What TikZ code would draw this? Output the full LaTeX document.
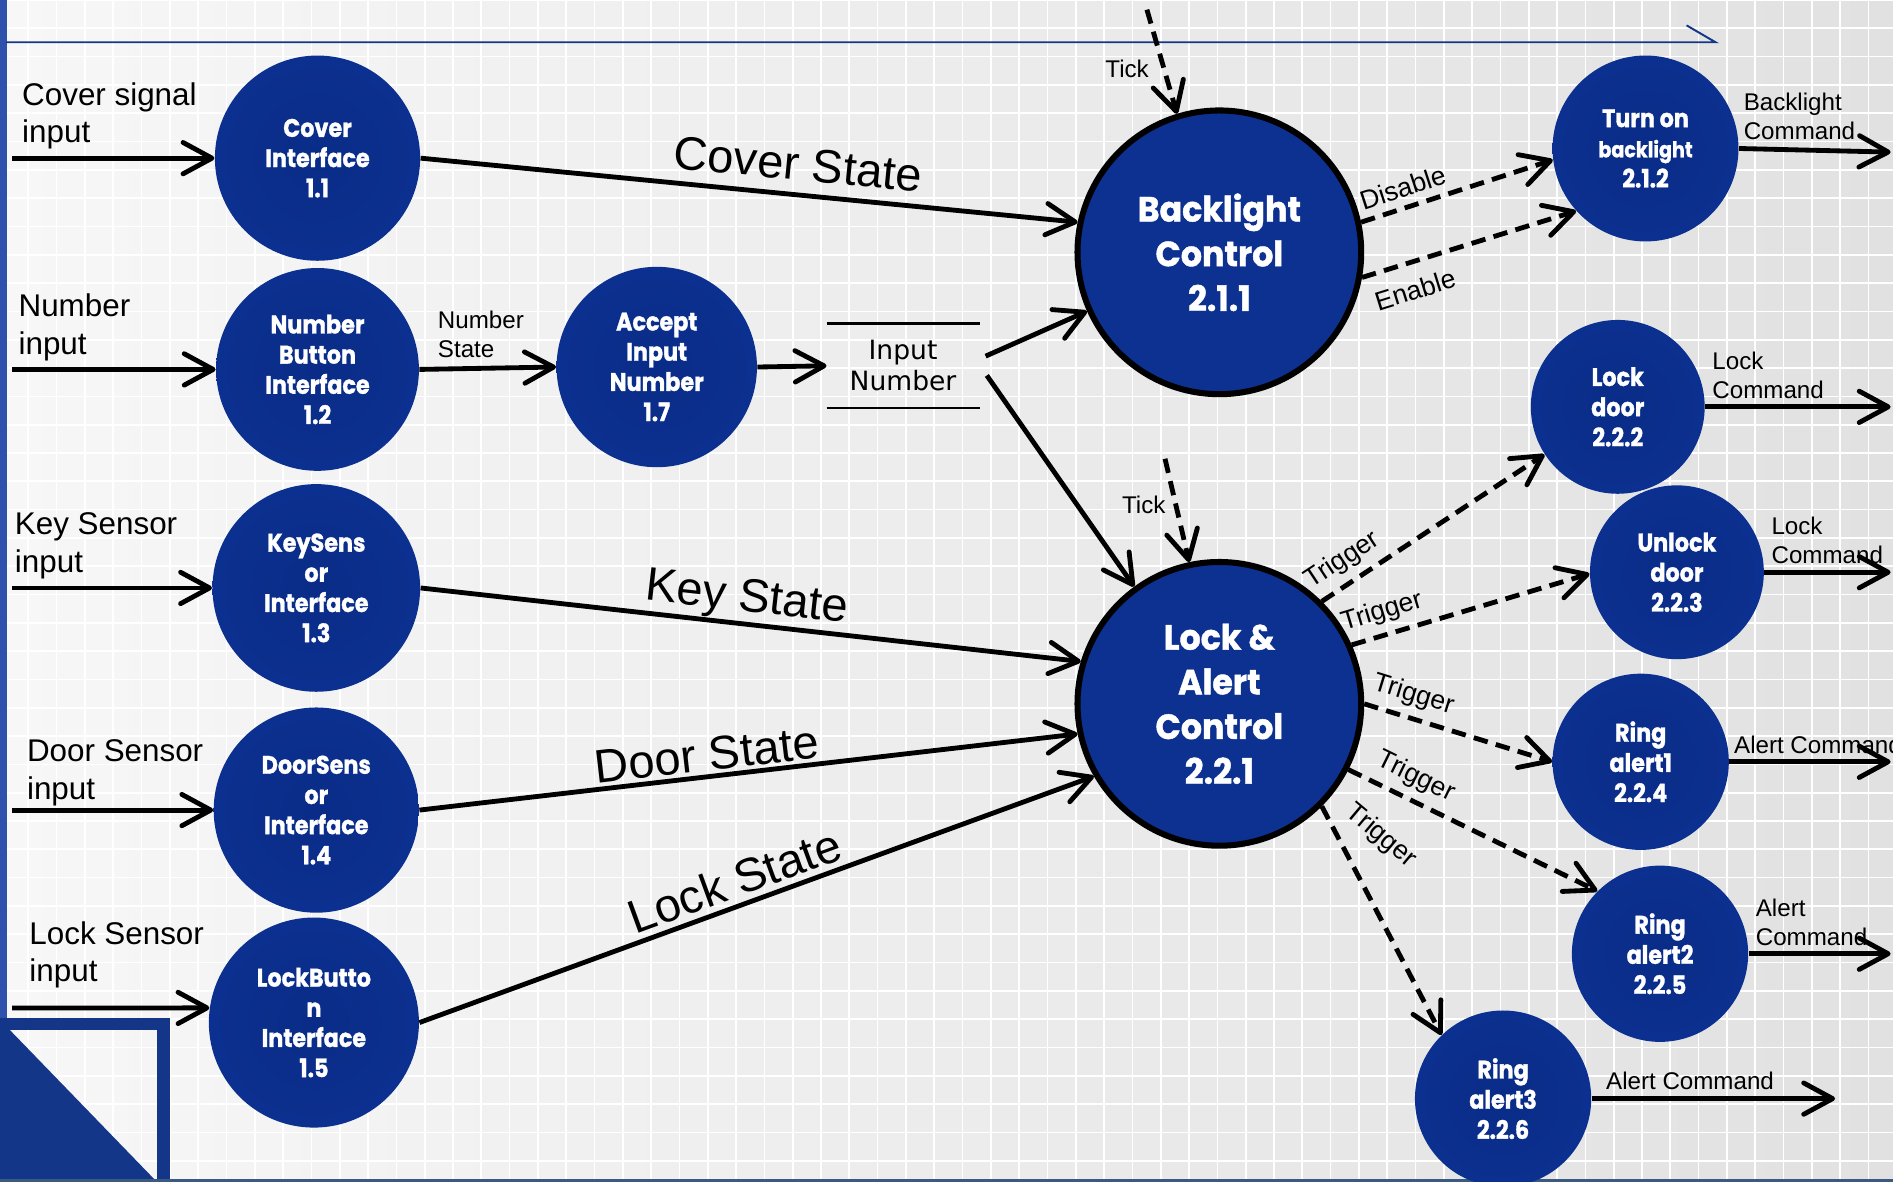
\documentclass[tikz,border=0pt]{standalone}
\usepackage{fontspec}
\setmainfont{Liberation Sans}
\newfontfamily\nodefont{Poppins}[FakeStretch=0.88, FakeBold=1.2]
\newfontfamily\bignodefont{Poppins}[FakeStretch=0.95, FakeBold=1.2]
\newfontfamily\storefont{DejaVu Sans}
\usetikzlibrary{arrows.meta,calc}
\definecolor{bgA}{HTML}{F7F7F7}
\definecolor{bgB}{HTML}{E1E1E1}
\definecolor{navy}{HTML}{0C3190}
\definecolor{pin}{HTML}{0A2C88}
\definecolor{pinB}{HTML}{0D3293}
\definecolor{pinC}{HTML}{163DA4}
\definecolor{pline}{HTML}{7891D8}
\definecolor{prim}{HTML}{2350C4}
\definecolor{primB}{HTML}{1A45B6}
\definecolor{frameblue}{HTML}{143689}
\definecolor{stripblue}{HTML}{2E52AC}
\definecolor{edgeline}{HTML}{3C5A80}
\pgfdeclareradialshading{procshade}{\pgfpoint{0bp}{0bp}}{color(0bp)=(pin); color(38bp)=(pinB); color(45bp)=(pinC); color(45.6bp)=(pline); color(46.3bp)=(prim); color(50bp)=(primB)}
\tikzset{
  proc/.style={circle, shading=procshade, inner sep=0pt, text=white, align=center,
    font=\nodefont\bfseries\fontsize{10.5}{12.5}\selectfont},
  ctrl/.style={circle, fill=navy, draw=black, line width=2.5pt, inner sep=0pt, text=white, align=center,
    font=\bignodefont\bfseries\fontsize{14.5}{18.5}\selectfont},
  tip/.style={-{Straight Barb[length=12pt,width=13pt,line width=2pt,round]}},
  flow/.style={tip, line width=2pt},
  dflow/.style={tip, line width=2pt, dash pattern=on 6pt off 3.5pt},
  inlab/.style={anchor=west, align=left, inner sep=0pt, font=\fontsize{13}{15.5}\selectfont},
  statelab/.style={font=\fontsize{19.5}{23}\selectfont},
  smlab/.style={font=\fontsize{10}{12}\selectfont},
  outlab/.style={smlab, anchor=south west, align=left, inner xsep=1pt, inner ysep=2.5pt},
  trig/.style={font=\fontsize{11}{13}\selectfont},
}
\begin{document}
\begin{tikzpicture}[x=0.5pt, y=-0.5pt]
\useasboundingbox (0,0) rectangle (1568,979);
% background
\shade[left color=bgA, right color=bgB] (0,0) rectangle (1568,979);
\foreach \i in {0,...,67} \draw[white, line width=0.7pt] ({\i*23.45},0) -- ({\i*23.45},979);
\foreach \j in {0,...,42} \draw[white, line width=0.7pt] (0,{\j*23.45}) -- (1568,{\j*23.45});
\fill[stripblue] (0,0) rectangle (6,843);
\fill[frameblue] (0,843) rectangle (141,853);
\fill[frameblue] (130,843) rectangle (141,979);
\fill[frameblue] (0,853) -- (8,853) -- (130,979) -- (0,979) -- cycle;
\draw[edgeline, line width=1.1pt] (0,978) -- (1568,978);
\draw[frameblue, line width=0.8pt] (5,35) -- (1421,35) -- (1397,21);

% processes
\node[proc, minimum size=85pt] (c11) at (263,131) {Cover\\Interface\\1.1};
\node[proc, minimum size=84pt] (c12) at (263,306) {Number\\Button\\Interface\\1.2};
\node[proc, minimum size=83pt] (c17) at (544,304) {Accept\\Input\\Number\\1.7};
\node[proc, minimum size=86pt] (c13) at (262,487) {KeySens\\or\\Interface\\1.3};
\node[proc, minimum size=85pt] (c14) at (262,671) {DoorSens\\or\\Interface\\1.4};
\node[proc, minimum size=87pt] (c15) at (260,847) {LockButto\\n\\Interface\\1.5};
\node[ctrl, minimum size=117.5pt] (bl) at (1010,209) {Backlight\\Control\\2.1.1};
\node[ctrl, minimum size=117.5pt] (la) at (1010,583) {Lock \&\\Alert\\Control\\2.2.1};
\node[proc, minimum size=77pt] (c212) at (1363,123) {Turn on\\{\fontsize{9}{12.5}\selectfont backlight}\\2.1.2};
\node[proc, minimum size=72pt] (c222) at (1340,337) {Lock\\door\\2.2.2};
\node[proc, minimum size=72pt] (c223) at (1389,474) {Unlock\\door\\2.2.3};
\node[proc, minimum size=73pt] (c224) at (1359,631) {Ring\\alert1\\2.2.4};
\node[proc, minimum size=73pt] (c225) at (1375,790) {Ring\\alert2\\2.2.5};
\node[proc, minimum size=73pt] (c226) at (1245,910) {Ring\\alert3\\2.2.6};

% store
\node[minimum width=63pt, minimum height=34.5pt, inner sep=0pt, align=center,
  font=\storefont\fontsize{11}{13}\selectfont] (store) at (748,303) {Input\\Number};
\draw[line width=1pt] (store.north west) -- (store.north east) (store.south west) -- (store.south east);

% input labels
\node[inlab] (l1) at (18,96) {Cover signal\\input};
\node[inlab] (l2) at (15,271) {Number\\input};
\node[inlab] (l3) at (12,452) {Key Sensor\\input};
\node[inlab] (l4) at (22,640) {Door Sensor\\input};
\node[inlab] (l5) at (24,791) {Lock Sensor\\input};

% free ends
\coordinate (i1) at (10,131);
\coordinate (i2) at (10,306);
\coordinate (i3) at (10,487);
\coordinate (i4) at (10,671);
\coordinate (i5) at (10,835);
\coordinate (t1) at (950,8);
\coordinate (t2) at (965,380);
\coordinate (o1) at (1566,126);
\coordinate (o2) at (1566,337);
\coordinate (o3) at (1566,474);
\coordinate (o4) at (1566,631);
\coordinate (o5) at (1566,790);
\coordinate (o6) at (1520,910);

% inputs
\draw[flow] (i1) -- (c11.west);
\draw[flow] (i2) -- (c12.west);
\draw[flow] (i3) -- (c13.west);
\draw[flow] (i4) -- (c14.west);
\draw[flow] (i5) -- (c15.172);

% flows
\draw[flow] (c11.east) -- node[statelab, sloped, above=1.5pt, pos=0.57]{Cover State} (bl.168);
\draw[flow] (c12.east) -- node[smlab, above, pos=0.45, align=left]{Number\\State} (c17.west);
\draw[flow] (c17.east) -- (store.west);
\draw[flow] ($(store.east)+(5,-8)$) -- (bl.204);
\draw[flow] ($(store.east)+(6,8)$) -- (la.126);
\draw[flow] (c13.east) -- node[statelab, sloped, above=-3pt, pos=0.49]{Key State} (la.163);
\draw[flow] (c14.east) -- node[statelab, sloped, above=-2pt, pos=0.44]{Door State} (la.192);
\draw[flow] (c15.east) -- node[statelab, sloped, above=-1pt, pos=0.48]{Lock State} (la.210);

% ticks
\draw[dflow] (t1) -- node[smlab, left=2pt, pos=0.57]{Tick} (bl.107);
\draw[dflow] (t2) -- node[smlab, left, pos=0.45]{Tick} (la.102);

% backlight control outputs
\draw[dflow] (bl.12) -- node[trig, sloped, above, pos=0.25]{Disable} (c212.187);
\draw[dflow] (bl.-10) -- node[trig, sloped, below=3pt, pos=0.21]{Enable} (c212.222);

% triggers
\draw[dflow] (la.45) -- node[trig, sloped, above, pos=0.15]{Trigger} (c222.213);
\draw[dflow] (la.24) -- node[trig, sloped, above, pos=0.155]{Trigger} (c223.181);
\draw[dflow] (la.0) -- node[trig, sloped, above, pos=0.226]{Trigger} (c224.180);
\draw[dflow] (la.-27) -- node[trig, sloped, above=0pt, pos=0.23]{Trigger} (c225.135);
\draw[dflow] (la.-45) -- node[trig, pos=0.13, xshift=18pt, rotate=-40]{Trigger} (c226.134);

% commands
\draw[flow] (c212.east) -- node[outlab, pos=0]{Backlight\\Command} (o1);
\draw[flow] (c222.east) -- node[outlab, pos=0, xshift=1pt]{Lock\\Command} (o2);
\draw[flow] (c223.east) -- node[outlab, pos=0, xshift=1pt]{Lock\\Command} (o3);
\draw[flow] (c224.east) -- node[outlab, pos=0]{Alert Command} (o4);
\draw[flow] (c225.east) -- node[outlab, pos=0, xshift=1pt]{Alert\\Command} (o5);
\draw[flow] (c226.east) -- node[outlab, pos=0, xshift=4pt]{Alert Command} (o6);
\end{tikzpicture}
\end{document}
